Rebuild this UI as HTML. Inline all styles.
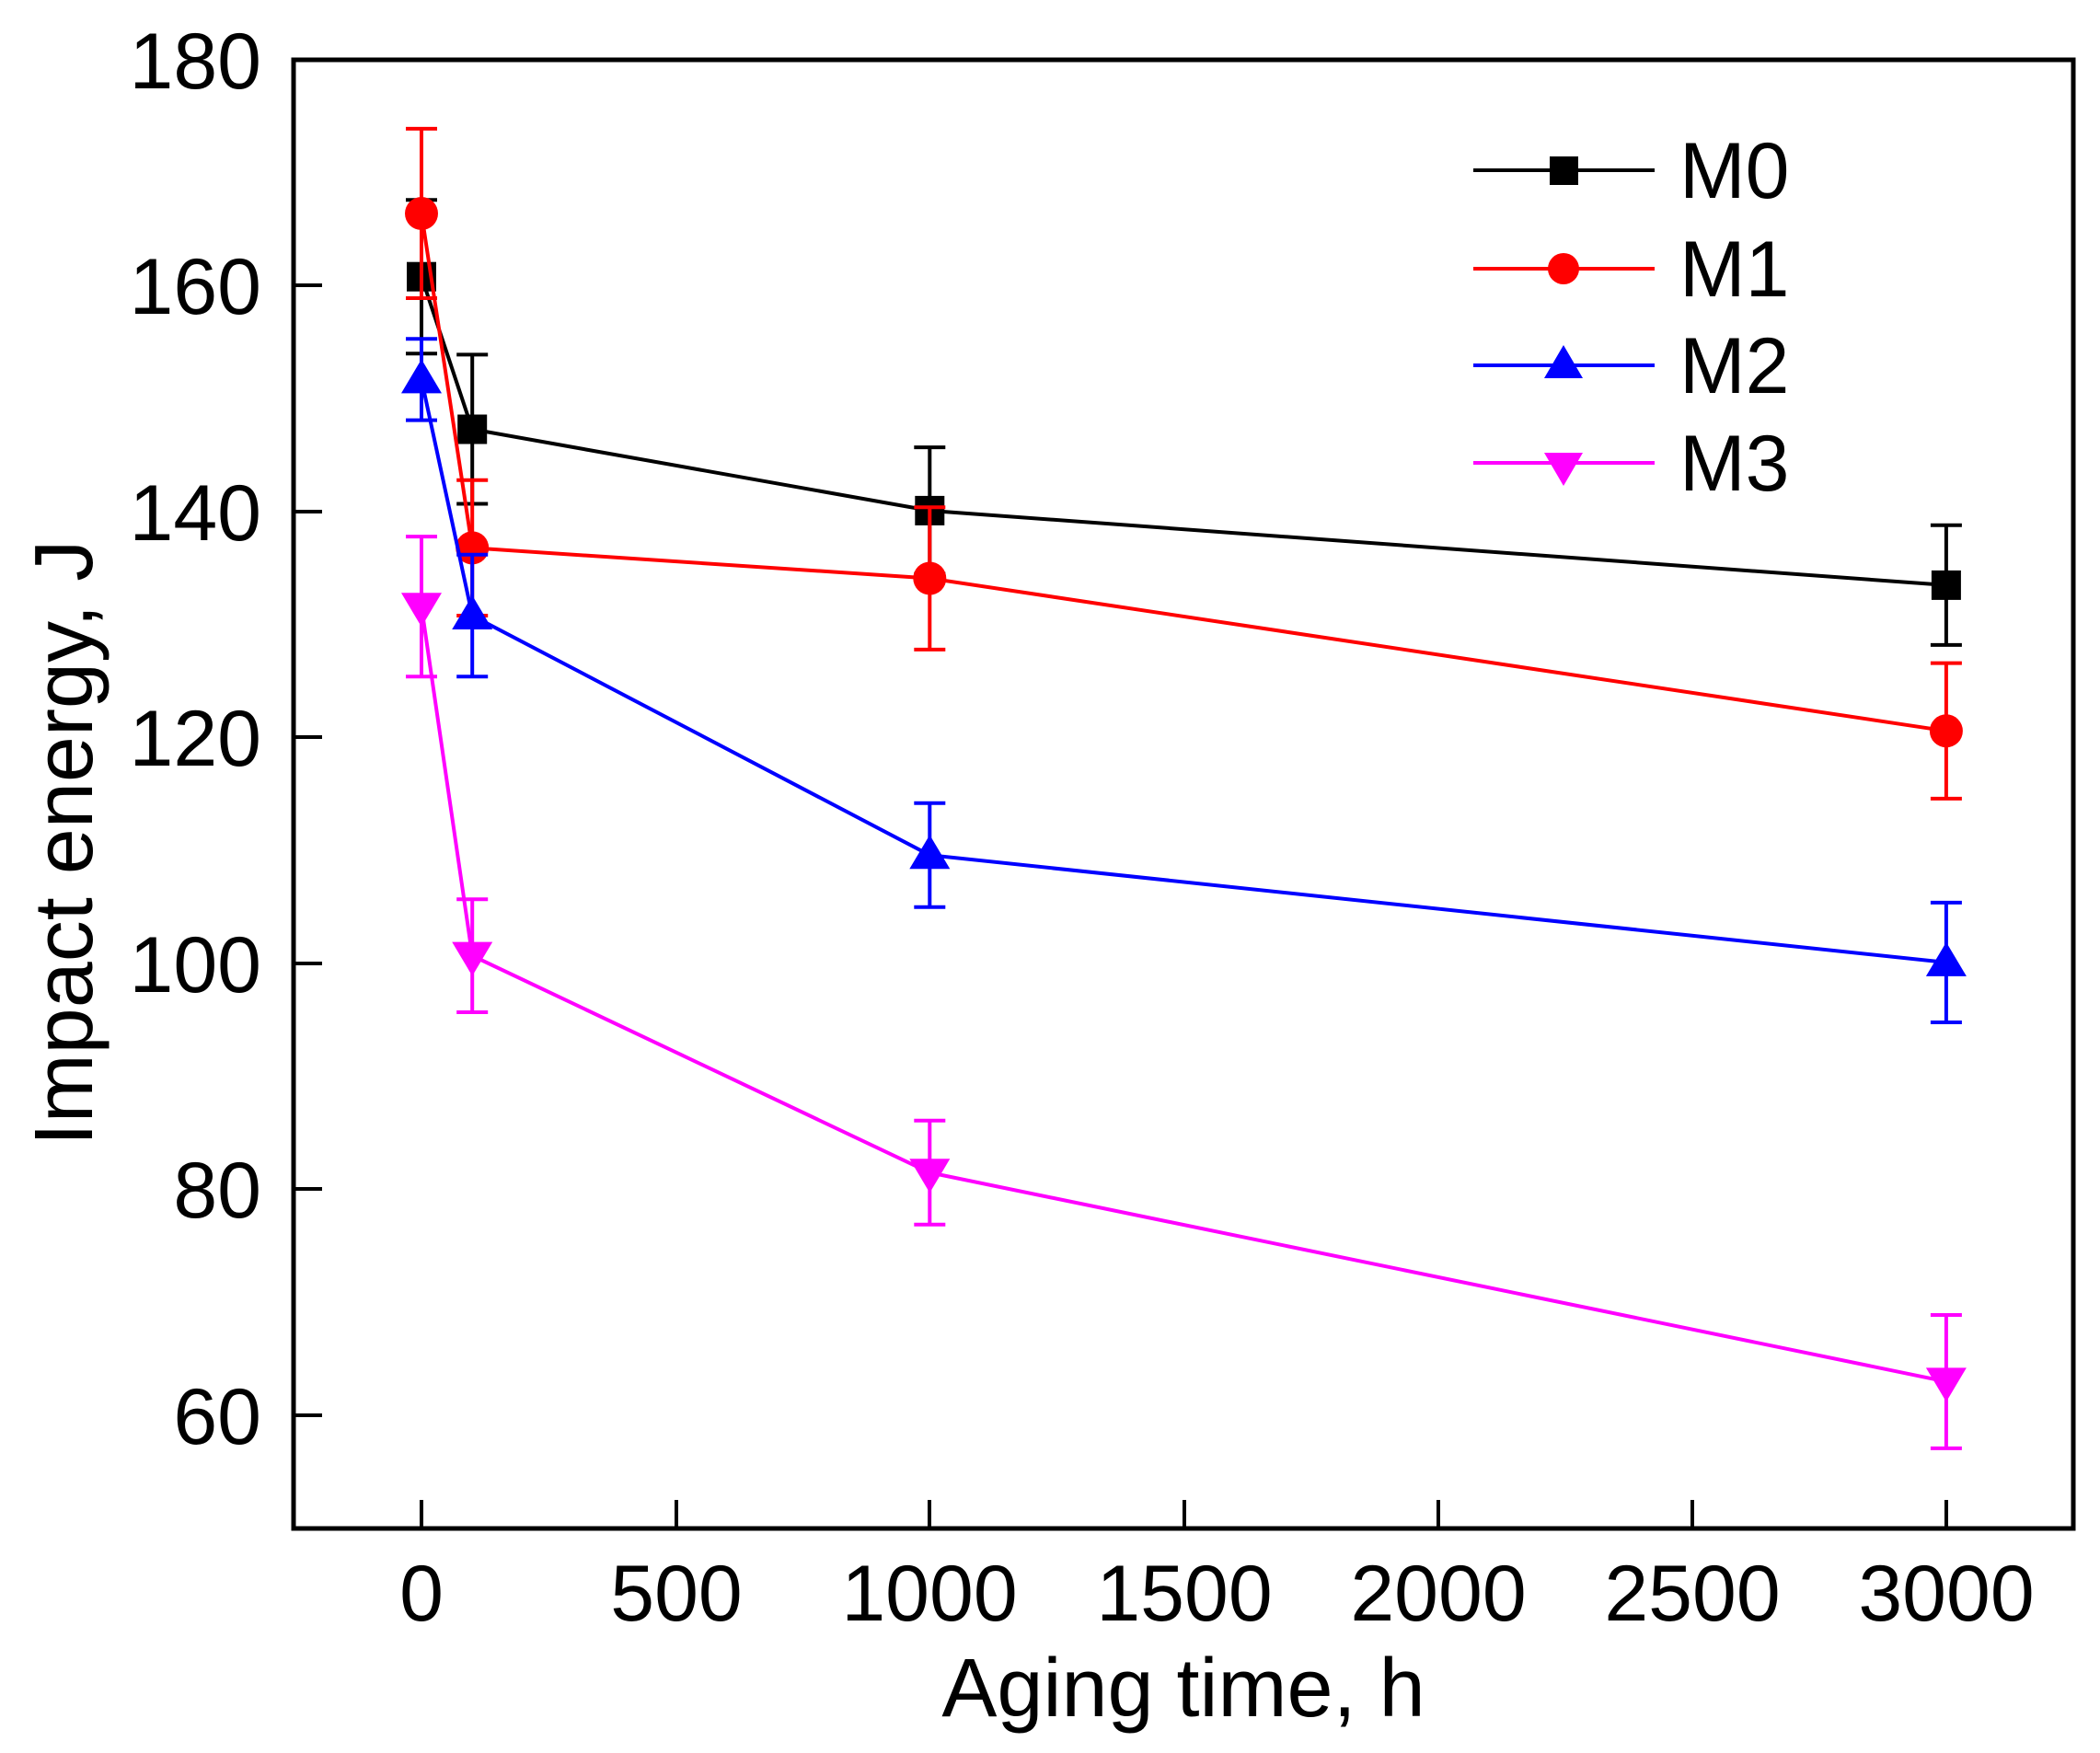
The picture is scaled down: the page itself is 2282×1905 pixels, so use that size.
<!DOCTYPE html>
<html><head><meta charset="utf-8"><style>body{margin:0;background:#fff}svg{display:block}</style></head><body>
<svg width="2282" height="1905" viewBox="0 0 2282 1905" xmlns="http://www.w3.org/2000/svg" font-family="Liberation Sans, Arial, sans-serif">
<rect width="2282" height="1905" fill="#fff"/>
<rect x="319" y="65" width="1934" height="1596" fill="none" stroke="#000" stroke-width="5"/>
<g stroke="#000" stroke-width="4">
<line x1="458" y1="1661" x2="458" y2="1630"/><line x1="735" y1="1661" x2="735" y2="1630"/><line x1="1010" y1="1661" x2="1010" y2="1630"/><line x1="1287" y1="1661" x2="1287" y2="1630"/><line x1="1563" y1="1661" x2="1563" y2="1630"/><line x1="1839" y1="1661" x2="1839" y2="1630"/><line x1="2115" y1="1661" x2="2115" y2="1630"/>
<line x1="319" y1="310" x2="350" y2="310"/><line x1="319" y1="556" x2="350" y2="556"/><line x1="319" y1="801" x2="350" y2="801"/><line x1="319" y1="1047" x2="350" y2="1047"/><line x1="319" y1="1292" x2="350" y2="1292"/><line x1="319" y1="1538" x2="350" y2="1538"/>
</g>
<g font-size="86" text-anchor="end" fill="#000">
<text x="284" y="96">180</text><text x="284" y="341">160</text><text x="284" y="587">140</text><text x="284" y="832">120</text><text x="284" y="1078">100</text><text x="284" y="1323">80</text><text x="284" y="1569">60</text>
</g>
<g font-size="86" text-anchor="middle" fill="#000">
<text x="458" y="1761">0</text><text x="735" y="1761">500</text><text x="1010" y="1761">1000</text><text x="1287" y="1761">1500</text><text x="1563" y="1761">2000</text><text x="1839" y="1761">2500</text><text x="2115" y="1761">3000</text>
</g>
<text x="1286" y="1865" font-size="90" text-anchor="middle">Aging time, h</text>
<text transform="translate(100,916) rotate(-90)" font-size="90" text-anchor="middle">Impact energy, J</text>

<!-- M0 -->
<g stroke="#000" stroke-width="4" fill="none">
<polyline points="458,300.7 513.2,466.5 1010.3,554.9 2114.9,635.9"/>
<path d="M458 217.2V384.2M441 217.2H475M441 384.2H475M513.2 385.4V547.5M496.2 385.4H530.2M496.2 547.5H530.2M1010.3 486.1V623.6M993.3 486.1H1027.3M993.3 623.6H1027.3M2114.9 570.8V700.9M2097.9 570.8H2131.9M2097.9 700.9H2131.9"/>
</g>
<g fill="#000"><rect x="442" y="284.7" width="32" height="32"/><rect x="497.2" y="450.5" width="32" height="32"/><rect x="994.3" y="538.9" width="32" height="32"/><rect x="2098.9" y="619.9" width="32" height="32"/></g>
<!-- M1 -->
<g stroke="#f00" stroke-width="4" fill="none">
<polyline points="458,232 513.2,595.4 1010.3,628.5 2114.9,794.3"/>
<path d="M458 139.9V324M441 139.9H475M441 324H475M513.2 521.7V669M496.2 521.7H530.2M496.2 669H530.2M1010.3 551.2V705.9M993.3 551.2H1027.3M993.3 705.9H1027.3M2114.9 720.6V867.9M2097.9 720.6H2131.9M2097.9 867.9H2131.9"/>
</g>
<g fill="#f00"><circle cx="458" cy="232" r="18"/><circle cx="513.2" cy="595.4" r="18"/><circle cx="1010.3" cy="628.5" r="18"/><circle cx="2114.9" cy="794.3" r="18"/></g>
<!-- M2 -->
<g stroke="#00f" stroke-width="4" fill="none">
<polyline points="458,412.4 513.2,669 1010.3,929.3 2114.9,1045.9"/>
<path d="M458 368.2V456.6M441 368.2H475M441 456.6H475M513.2 602.7V735.3M496.2 602.7H530.2M496.2 735.3H530.2M1010.3 872.8V985.8M993.3 872.8H1027.3M993.3 985.8H1027.3M2114.9 980.9V1111M2097.9 980.9H2131.9M2097.9 1111H2131.9"/>
</g>
<g fill="#00f">
<polygon points="458,390.4 480,427.4 436,427.4"/><polygon points="513.2,647 535.2,684 491.2,684"/><polygon points="1010.3,907.3 1032.3,944.3 988.3,944.3"/><polygon points="2114.9,1023.9 2136.9,1060.9 2092.9,1060.9"/>
</g>
<!-- M3 -->
<g stroke="#f0f" stroke-width="4" fill="none">
<polyline points="458,659.2 513.2,1038.6 1010.3,1274.3 2114.9,1501.4"/>
<path d="M458 583.1V735.3M441 583.1H475M441 735.3H475M513.2 977.2V1100M496.2 977.2H530.2M496.2 1100H530.2M1010.3 1217.8V1330.7M993.3 1217.8H1027.3M993.3 1330.7H1027.3M2114.9 1429V1573.9M2097.9 1429H2131.9M2097.9 1573.9H2131.9"/>
</g>
<g fill="#f0f">
<polygon points="436,644.2 480,644.2 458,681.2"/><polygon points="491.2,1023.6 535.2,1023.6 513.2,1060.6"/><polygon points="988.3,1259.3 1032.3,1259.3 1010.3,1296.3"/><polygon points="2092.9,1486.4 2136.9,1486.4 2114.9,1523.4"/>
</g>

<g font-size="86">
<line x1="1601" y1="185" x2="1798" y2="185" stroke="#000" stroke-width="4"/><rect x="1684" y="170" width="31" height="31" fill="#000"/><text x="1825" y="215">M0</text>
<line x1="1601" y1="292" x2="1798" y2="292" stroke="#f00" stroke-width="4"/><circle cx="1699" cy="292" r="17" fill="#f00"/><text x="1825" y="322">M1</text>
<line x1="1601" y1="397" x2="1798" y2="397" stroke="#00f" stroke-width="4"/><polygon points="1699,375 1720,411 1678,411" fill="#00f"/><text x="1825" y="427">M2</text>
<line x1="1601" y1="503" x2="1798" y2="503" stroke="#f0f" stroke-width="4"/><polygon points="1678,492 1720,492 1699,528" fill="#f0f"/><text x="1825" y="533">M3</text>
</g>
</svg>
</body></html>
